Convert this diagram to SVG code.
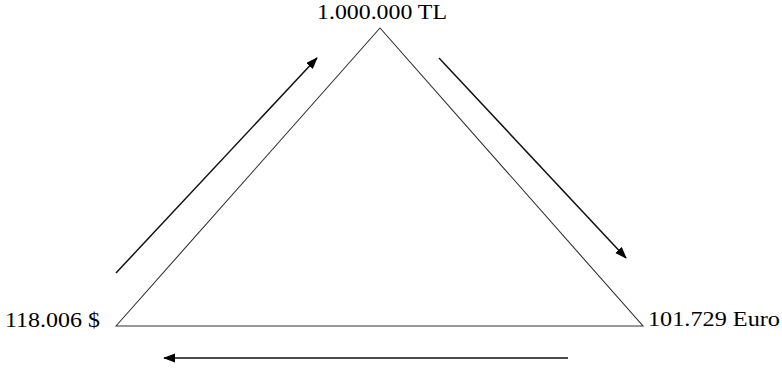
<svg xmlns="http://www.w3.org/2000/svg" width="782" height="375" viewBox="0 0 782 375">
<style>
.lbl{font-family:"Liberation Serif","Times New Roman",serif;font-size:21px;fill:#000}
.tri{fill:none;stroke:#333;stroke-width:1.1}
.arr{fill:none;stroke:#111;stroke-width:1.5;marker-end:url(#ah)}
</style>
<defs>
<marker id="ah" markerUnits="userSpaceOnUse" markerWidth="12" markerHeight="10" refX="11" refY="4.5" orient="auto">
<path d="M0,0 L12,4.5 L0,9 z" fill="#000"/>
</marker>
</defs>
<rect width="782" height="375" fill="#fff"/>
<g id="triangle">
<path class="tri" d="M116,326 L380,28 L643,326 Z"/>
</g>
<g id="node-tl">
<text class="lbl" x="317" y="19" textLength="130" lengthAdjust="spacingAndGlyphs">1.000.000 TL</text>
</g>
<g id="node-usd">
<text class="lbl" x="5" y="327" textLength="95" lengthAdjust="spacingAndGlyphs">118.006 $</text>
</g>
<g id="node-euro">
<text class="lbl" x="648" y="326" textLength="132" lengthAdjust="spacingAndGlyphs">101.729 Euro</text>
</g>
<g id="connectors">
<line class="arr" x1="116" y1="273" x2="317" y2="58"/>
<line class="arr" x1="439" y1="58" x2="626" y2="258"/>
<line class="arr" x1="568" y1="358" x2="164" y2="358"/>
</g>
</svg>
